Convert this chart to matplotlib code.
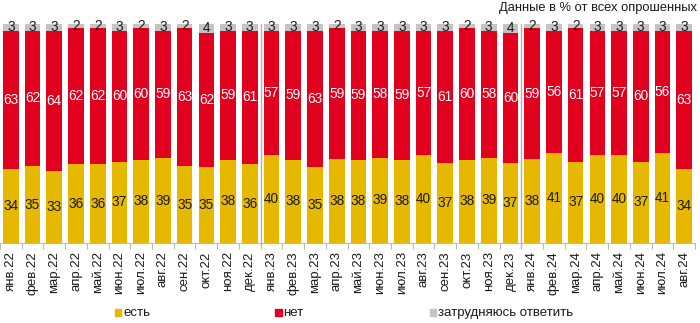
import matplotlib
matplotlib.use("Agg")
import matplotlib.pyplot as plt
import numpy as np

plt.rcParams['font.family'] = ['Liberation Sans', 'DejaVu Sans']

months = ["янв.22", "фев.22", "мар.22", "апр.22", "май.22", "июн.22", "июл.22", "авг.22",
          "сен.22", "окт.22", "ноя.22", "дек.22",
          "янв.23", "фев.23", "мар.23", "апр.23", "май.23", "июн.23", "июл.23", "авг.23",
          "сен.23", "окт.23", "ноя.23", "дек.23",
          "янв.24", "фев.24", "мар.24", "апр.24", "май.24", "июн.24", "июл.24", "авг.24"]
est = [34, 35, 33, 36, 36, 37, 38, 39, 35, 35, 38, 36,
       40, 38, 35, 38, 38, 39, 38, 40, 37, 38, 39, 37,
       38, 41, 37, 40, 40, 37, 41, 34]
net = [63, 62, 64, 62, 62, 60, 60, 59, 63, 62, 59, 61,
       57, 59, 63, 59, 59, 58, 59, 57, 61, 60, 58, 60,
       59, 56, 61, 57, 57, 60, 56, 63]
zatr = [3, 3, 3, 2, 2, 3, 2, 3, 2, 4, 3, 3,
        3, 3, 3, 2, 3, 3, 3, 3, 3, 2, 3, 4,
        2, 3, 2, 3, 3, 3, 3, 3]
series_names = ["есть", "нет", "затрудняюсь ответить"]
title_text = "Данные в % от всех опрошенных"

colors = ["#E6B800", "#E1001E", "#C4C4C4"]
text_colors = ["#1a1a1a", "white", "#1a1a1a"]

fig = plt.figure(figsize=(7.0, 3.23), dpi=100)
ax = fig.add_axes([0.0, 0.2477, 0.993, 0.678])

x = np.arange(len(months))
raw = np.array([est, net, zatr], dtype=float)
shares = raw / raw.sum(axis=0) * 100
bottom = np.zeros(len(months))
for k in range(3):
    ax.bar(x, shares[k], 0.72, bottom=bottom, color=colors[k], edgecolor='none', zorder=2)
    for i in range(len(months)):
        ax.text(x[i], bottom[i] + shares[k][i] / 2, str(int(raw[k][i])),
                ha='center', va='center', fontsize=9.8, color=text_colors[k], zorder=3)
    bottom += shares[k]

ax.set_xlim(-0.5, len(months) - 0.5)
ax.set_ylim(0, 100)
for s in ['top', 'right', 'left']:
    ax.spines[s].set_visible(False)
ax.spines['bottom'].set_color('#BBBBBB')
ax.spines['bottom'].set_linewidth(0.8)
ax.set_yticks([])
ax.set_xticks(x)
ax.set_xticklabels(months, rotation=90, fontsize=9.5, color='#1a1a1a')
ax.tick_params(axis='x', which='major', length=0, pad=6)
ax.set_xticks(np.arange(len(months) + 1) - 0.5, minor=True)
ax.tick_params(axis='x', which='minor', length=4, color='#BBBBBB', width=0.8)

for sep in [11.5, 23.5]:
    ax.axvline(sep, color='#B0B0B0', lw=1.0, ymin=-0.02, ymax=1.0, clip_on=False, zorder=1)

fig.text(0.996, 0.993, title_text, ha='right', va='top', fontsize=9.3, color='#1a1a1a')

legend_x = [0.164, 0.393, 0.614]
for k in range(3):
    fig.patches.append(plt.Rectangle((legend_x[k], 0.022), 0.0095, 0.021,
                                     transform=fig.transFigure, color=colors[k]))
    fig.text(legend_x[k] + 0.012, 0.032, series_names[k], ha='left', va='center',
             fontsize=9.5, color='#1a1a1a')

fig.savefig("out.png", dpi=100)
